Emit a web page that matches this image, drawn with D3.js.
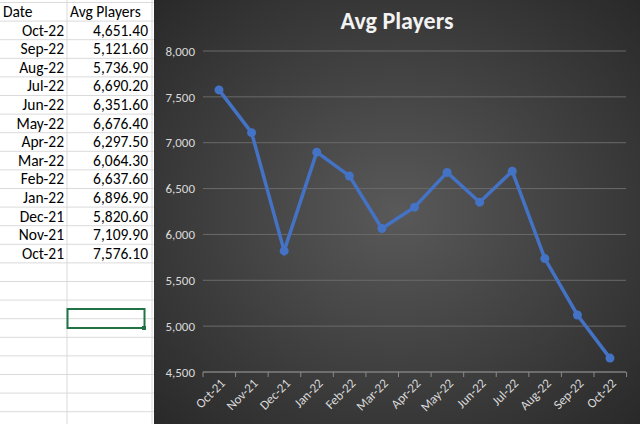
<!DOCTYPE html><html><head><script src="https://cdn.jsdelivr.net/npm/d3@7"></script>
<style>body{margin:0;background:#fff}svg{display:block}</style></head><body><svg id="c" width="640" height="424"></svg>
<script>
const months=["Oct-21","Nov-21","Dec-21","Jan-22","Feb-22","Mar-22","Apr-22","May-22","Jun-22","Jul-22","Aug-22","Sep-22","Oct-22"];
const players=[7576.1,7109.9,5820.6,6896.9,6637.6,6064.3,6297.5,6676.4,6351.6,6690.2,5736.9,5121.6,4651.4];
const yTicks=[4500,5000,5500,6000,6500,7000,7500,8000];
const tableDates=months.slice().reverse();
const tableVals=players.slice().reverse();
const svg=d3.select("#c");
const rowH=18.6, font="Calibri, Carlito, 'Liberation Sans', sans-serif";
const g=svg.append("g");
for(let i=0;i<=23;i++){g.append("line").attr("x1",0).attr("x2",154).attr("y1",i*rowH+2.5).attr("y2",i*rowH+2.5).attr("stroke","#dadada");}
[67,152].forEach(x=>g.append("line").attr("x1",x).attr("x2",x).attr("y1",0).attr("y2",424).attr("stroke","#dadada"));
g.append("text").attr("x",3).attr("y",17).text("Date").attr("font-family",font).attr("font-size",15.5);
g.append("text").attr("x",70).attr("y",17).text("Avg Players").attr("font-family",font).attr("font-size",15.5);
tableDates.forEach((d,i)=>{
 const y=17+(i+1)*rowH;
 g.append("text").attr("x",64).attr("y",y).attr("text-anchor","end").text(d).attr("font-family",font).attr("font-size",15.5);
 g.append("text").attr("x",148).attr("y",y).attr("text-anchor","end").text(d3.format(",.2f")(tableVals[i])).attr("font-family",font).attr("font-size",15.5);
});
g.append("rect").attr("x",67.5).attr("y",309).attr("width",77).attr("height",19).attr("fill","none").attr("stroke","#217346").attr("stroke-width",2);
g.append("rect").attr("x",142).attr("y",326).attr("width",4).attr("height",4).attr("fill","#217346");
const defs=svg.append("defs");
const rg=defs.append("radialGradient").attr("id","bg").attr("cx","50%").attr("cy","50%").attr("r","75%");
rg.append("stop").attr("offset","0%").attr("stop-color","#595959");
rg.append("stop").attr("offset","100%").attr("stop-color","#262626");
svg.append("rect").attr("x",154).attr("y",0).attr("width",486).attr("height",424).attr("fill","url(#bg)");
svg.append("text").attr("x",397).attr("y",29).attr("text-anchor","middle").text("Avg Players").attr("font-family",font).attr("font-size",24).attr("font-weight","bold").attr("fill","#f2f2f2");
const x=d3.scalePoint().domain(months).range([219,610]);
const y=d3.scaleLinear().domain([4500,8000]).range([372,51]);
const grid=svg.append("g");
yTicks.forEach(t=>{grid.append("line").attr("x1",203).attr("x2",626).attr("y1",y(t)).attr("y2",y(t)).attr("stroke","#6a6a6a").attr("stroke-width",1);});
const ya=svg.append("g").attr("transform","translate(203,0)").call(d3.axisLeft(y).tickValues(yTicks).tickFormat(d3.format(",")).tickSize(0).tickPadding(8));
ya.select(".domain").remove();
ya.selectAll("text").attr("fill","#d9d9d9").attr("font-family",font).attr("font-size",13);
const step=x.step();
const xa=svg.append("g").attr("transform","translate(0,372)").call(d3.axisBottom(x).tickSize(0).tickPadding(6));
xa.select(".domain").attr("stroke","#8a8a8a").attr("d","M203,0H626");
months.concat([""]).forEach((m,i)=>xa.append("line").attr("x1",203+i*step).attr("x2",203+i*step).attr("y1",0).attr("y2",5).attr("stroke","#8a8a8a"));
xa.selectAll("text").attr("fill","#d9d9d9").attr("font-family",font).attr("font-size",13).attr("text-anchor","end").attr("transform","rotate(-45) translate(-4,-2)");
const line=d3.line().x((d,i)=>x(months[i])).y(d=>y(d));
svg.append("path").datum(players).attr("d",line).attr("fill","none").attr("stroke","#4472c4").attr("stroke-width",3.5);
svg.selectAll("circle.p").data(players).join("circle").attr("cx",(d,i)=>x(months[i])).attr("cy",d=>y(d)).attr("r",4.5).attr("fill","#4472c4");
</script></body></html>
